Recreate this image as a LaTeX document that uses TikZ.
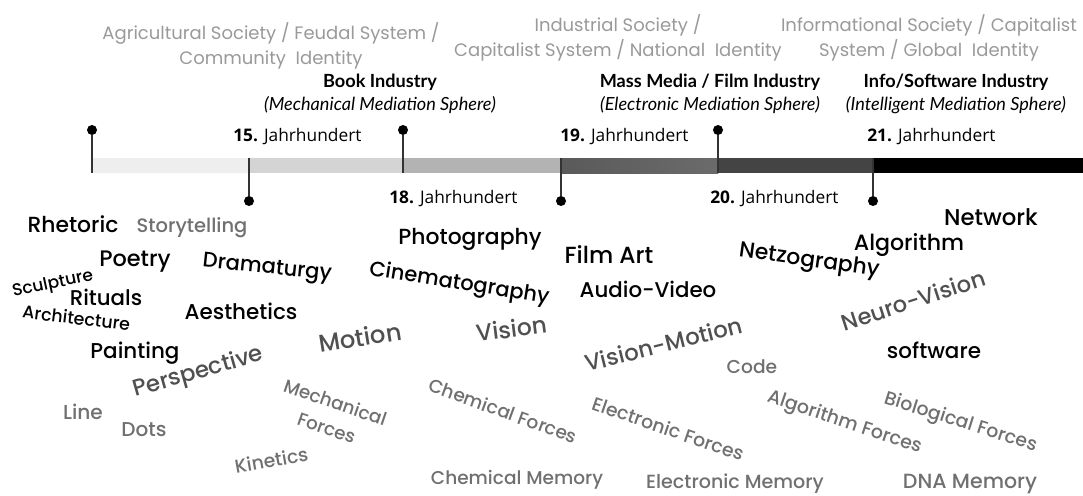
\documentclass[tikz,border=0pt]{standalone}
\usepackage{fontspec}
\newfontfamily\termfont{Poppins}[UprightFont=* Medium]
\newfontfamily\headfont{Poppins}
\newfontfamily\sphfont{Lato}
\newfontfamily\centfont{Open Sans}
\usetikzlibrary{positioning}
\definecolor{headgray}{HTML}{9A9A9A}
\definecolor{darkword}{HTML}{505050}
\definecolor{grayword}{HTML}{707070}
\definecolor{stemgray}{HTML}{333333}
\definecolor{seg1}{HTML}{EEEEEE}
\definecolor{seg2}{HTML}{D4D4D4}
\definecolor{seg3}{HTML}{B3B3B3}
\definecolor{seg4a}{HTML}{5A5A5A}
\definecolor{seg4b}{HTML}{6B6B6B}
\definecolor{seg5}{HTML}{444444}
\definecolor{seg6}{HTML}{000000}
\tikzset{
  term/.style={inner sep=0pt,text height=.72em,text depth=.2em,
    font=\termfont\fontsize{#1}{#1}\selectfont},
  wblack/.style={term=#1,text=black},
  wdark/.style={term=#1,text=darkword},
  wgray/.style={term=#1,text=grayword},
  society/.style={inner sep=0pt,align=center,text=headgray,
    font=\headfont\fontsize{13.5}{19}\selectfont},
  sphere/.style={inner sep=0pt,align=center,
    font=\sphfont\fontsize{13.6}{17.5}\selectfont},
  century/.style={inner sep=0pt,anchor=west,
    font=\centfont\fontsize{13}{15}\selectfont},
  knob/.style={circle,fill=black,inner sep=0pt,minimum size=7.5pt},
  stem/.style={stemgray,line width=1.1pt}
}
\begin{document}
\begin{tikzpicture}[x=0.75pt,y=-0.75pt]
  \fill[white] (0,0) rectangle (1083,496);
  \useasboundingbox (0,0) rectangle (1083,496);
  % timeline bar
  \fill[seg1] (92,158) rectangle (249,173);
  \fill[seg2] (249,158) rectangle (403,173);
  \fill[seg3] (403,158) rectangle (561,173);
  \shade[left color=seg4a,right color=seg4b] (561,158) rectangle (718,173);
  \fill[seg5] (718,158) rectangle (873,173);
  \fill[seg6] (873,158) rectangle (1083,173);
  % pins
  \node[knob] (k1) at (92,130) {};
  \node[knob] (k2) at (249,201) {};
  \node[knob] (k3) at (403,130) {};
  \node[knob] (k4) at (561,201) {};
  \node[knob] (k5) at (718,130) {};
  \node[knob] (k6) at (873,201) {};
  \coordinate (b1) at (92,173);
  \coordinate (b2) at (249,158);
  \coordinate (b3) at (403,173);
  \coordinate (b4) at (561,158);
  \coordinate (b5) at (718,173);
  \coordinate (b6) at (873,158);
  \draw[stem] (k1) -- (b1);
  \draw[stem] (k2) -- (b2);
  \draw[stem] (k3) -- (b3);
  \draw[stem] (k4) -- (b4);
  \draw[stem] (k5) -- (b5);
  \draw[stem] (k6) -- (b6);
  % centuries
  \node[century] (c15) at (233,137) {\textbf{15.} Jahrhundert};
  \node[century] (c18) at (389,199) {\textbf{18.} Jahrhundert};
  \node[century] (c19) at (560,137) {\textbf{19.} Jahrhundert};
  \node[century] (c20) at (710,199) {\textbf{20.} Jahrhundert};
  \node[century] (c21) at (867,137) {\textbf{21.} Jahrhundert};
  % societies
  \node[society] (agri) at (271,46) {Agricultural Society / Feudal System /\\Community~ Identity};
  \node[society] (indu) at (618,38) {Industrial Society /\\Capitalist System / National~ Identity};
  \node[society] (info) at (929,38) {Informational Society / Capitalist\\System / Global~ Identity};
  % mediation spheres
  \node[sphere] (book) at (380,94) {\textbf{Book Industry}\\\textit{(Mechanical Mediation Sphere)}};
  \node[sphere] (mass) at (710,94) {\textbf{Mass Media / Film Industry}\\\textit{(Electronic Mediation Sphere)}};
  \node[sphere] (soft) at (956,94) {\textbf{Info/Software Industry}\\\textit{(Intelligent Mediation Sphere)}};
  % terms
  \node[wblack=16.4] (rhetoric) at (73,229) {Rhetoric};
  \node[wgray=14.6] (story) at (192,229) {Storytelling};
  \node[wblack=16.8] (poetry) at (135,263) {Poetry};
  \node[wblack=15.8,rotate=-6] (drama) at (267,270) {Dramaturgy};
  \node[wblack=12.8,rotate=12] (sculpt) at (53,285) {Sculpture};
  \node[wblack=16] (rituals) at (106,302) {Rituals};
  \node[wblack=13.1,rotate=-7] (archi) at (76,321) {Architecture};
  \node[wblack=16.1] (aesth) at (241,316) {Aesthetics};
  \node[wblack=16.1] (paint) at (135,355) {Painting};
  \node[wdark=17.2,rotate=16] (persp) at (199,375) {Perspective};
  \node[wgray=15.1] (line) at (83,416) {Line};
  \node[wgray=15] (dots) at (144,433) {Dots};
  \node[wdark=18.2,rotate=9] (motion) at (361,343) {Motion};
  \node[wgray=13.7,rotate=-19,align=center,font=\termfont\fontsize{13.7}{20}\selectfont,text height=,text depth=] (mech) at (331,415) {Mechanical\\Forces};
  \node[wgray=14.1,rotate=10] (kin) at (272,464) {Kinetics};
  \node[wblack=16.4] (photo) at (470,241) {Photography};
  \node[wblack=17.5] (film) at (609,260) {Film Art};
  \node[wblack=15.7,rotate=-9] (cine) at (459,286) {Cinematography};
  \node[wblack=16] (audio) at (648,294) {Audio-Video};
  \node[wdark=17.5,rotate=7] (vision) at (512,334) {Vision};
  \node[wdark=17.1,rotate=14] (vimo) at (665,349) {Vision-Motion};
  \node[wgray=13.9,rotate=-20] (chemf) at (502,414) {Chemical Forces};
  \node[wgray=14.1,rotate=-19] (elecf) at (667,432) {Electronic Forces};
  \node[wgray=13.9] (chemm) at (517,481) {Chemical Memory};
  \node[wgray=14.3] (elecm) at (735,485) {Electronic Memory};
  \node[wgray=14] (code) at (752,370) {Code};
  \node[wblack=17.1] (network) at (991,222) {Network};
  \node[wblack=16.6] (algo) at (909,247) {Algorithm};
  \node[wblack=16.4,rotate=-8] (netzo) at (809,263) {Netzography};
  \node[wdark=16.9,rotate=18] (neuro) at (915,305) {Neuro-Vision};
  \node[wblack=16.1] (software) at (934,355) {software};
  \node[wgray=14.2,rotate=-18.5] (algof) at (844,424) {Algorithm Forces};
  \node[wgray=14.1,rotate=-17.5] (biof) at (960,424) {Biological Forces};
  \node[wgray=15.4] (dna) at (970,485) {DNA Memory};
\end{tikzpicture}
\end{document}
